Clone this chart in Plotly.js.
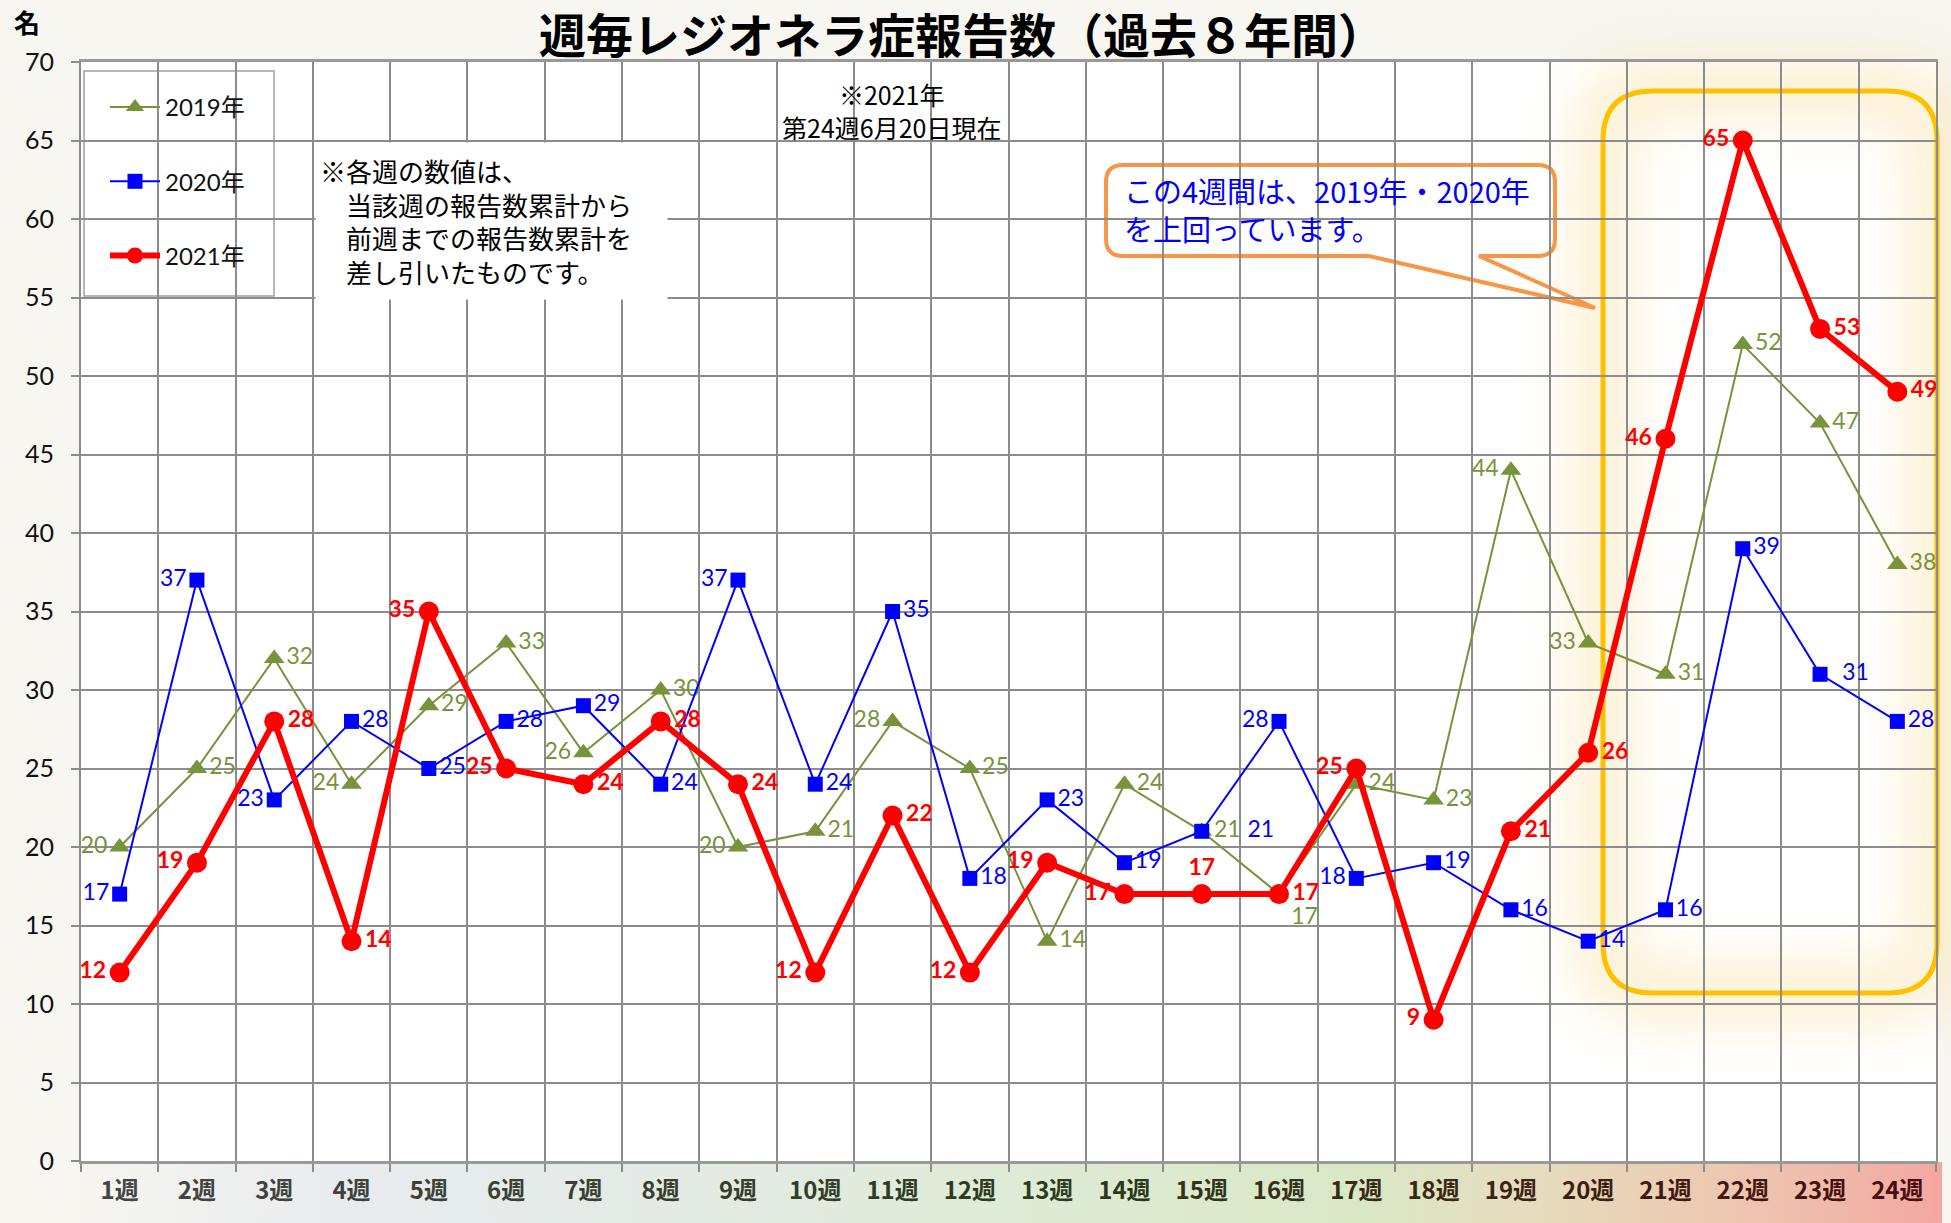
<!DOCTYPE html>
<html><head><meta charset="utf-8">
<script src="https://cdn.plot.ly/plotly-3.0.1.min.js"></script>
<style>html,body{margin:0;padding:0;background:#f7f6f1;}#chart{width:1951px;height:1223px;}</style>
</head><body><div id="chart"></div>
<script>
// ---------- data ----------
const weeks = ["1週","2週","3週","4週","5週","6週","7週","8週","9週","10週","11週","12週",
               "13週","14週","15週","16週","17週","18週","19週","20週","21週","22週","23週","24週"];
const seriesNames = ["2019年","2020年","2021年"];
const v2019 = [20,25,32,24,29,33,26,30,20,21,28,25,14,24,21,17,24,23,44,33,31,52,47,38];
const v2020 = [17,37,23,28,25,28,29,24,37,24,35,18,23,19,21,28,18,19,16,14,16,39,31,28];
const v2021 = [12,19,28,14,35,25,24,28,24,12,22,12,19,17,17,17,25,9,21,26,46,65,53,49];
const yTickMax = 70, yTickStep = 5;

const L="middle left", R="middle right", TC="top center", BR="bottom right";
const pos2019 = [L,R,R,L,R,R,L,R,L,R,L,R,R,R,R,BR,R,R,L,L,R,R,R,R];
const pos2020 = [L,L,L,R,R,R,R,R,L,R,R,R,R,R,R,L,L,R,R,R,R,R,R,R];
const pos2021 = [L,L,R,R,L,L,R,R,R,L,R,L,L,L,TC,R,L,L,R,R,L,L,R,R];

const titleText = "週毎レジオネラ症報告数（過去８年間）";
const unitText = "名";
const noteText = "※各週の数値は、<br>　当該週の報告数累計から<br>　前週までの報告数累計を<br>　差し引いたものです。";
const dateText = "※2021年<br>第24週6月20日現在";
const calloutText = "この4週間は、2019年・2020年<br>を上回っています。";

// ---------- geometry ----------
const W=1951, H=1223, ML=81, MR=15, MT=62, MB=62;
const PW=W-ML-MR, PH=H-MT-MB;
const px2x = px => (px-ML)/PW;
const px2y = py => 1-(py-MT)/PH;
const P = (x,y) => px2x(x).toFixed(5)+","+px2y(y).toFixed(5);
function rrPath(x0,y0,x1,y1,r){
  return "M"+P(x0+r,y0)+" L"+P(x1-r,y0)+" Q"+P(x1,y0)+" "+P(x1,y0+r)+
    " L"+P(x1,y1-r)+" Q"+P(x1,y1)+" "+P(x1-r,y1)+
    " L"+P(x0+r,y1)+" Q"+P(x0,y1)+" "+P(x0,y1-r)+
    " L"+P(x0,y0+r)+" Q"+P(x0,y0)+" "+P(x0+r,y0)+" Z";
}
function calloutPath(x0,y0,x1,y1,r,ta,tb,tx,ty){
  return "M"+P(x0+r,y0)+" L"+P(x1-r,y0)+" Q"+P(x1,y0)+" "+P(x1,y0+r)+
    " L"+P(x1,y1-r)+" Q"+P(x1,y1)+" "+P(x1-r,y1)+
    " L"+P(tb,y1)+" L"+P(tx,ty)+" L"+P(ta,y1)+
    " L"+P(x0+r,y1)+" Q"+P(x0,y1)+" "+P(x0,y1-r)+
    " L"+P(x0,y0+r)+" Q"+P(x0,y0)+" "+P(x0+r,y0)+" Z";
}

// ---------- background image ----------
const cv=document.createElement("canvas"); cv.width=W; cv.height=H;
const c=cv.getContext("2d");
c.fillStyle="#f7f6f1"; c.fillRect(0,0,W,H);
c.fillStyle="#ffffff"; c.fillRect(ML,MT,PW,PH);
function rr(ctx,x0,y0,x1,y1,r){ctx.beginPath();ctx.moveTo(x0+r,y0);ctx.lineTo(x1-r,y0);ctx.quadraticCurveTo(x1,y0,x1,y0+r);
 ctx.lineTo(x1,y1-r);ctx.quadraticCurveTo(x1,y1,x1-r,y1);ctx.lineTo(x0+r,y1);ctx.quadraticCurveTo(x0,y1,x0,y1-r);
 ctx.lineTo(x0,y0+r);ctx.quadraticCurveTo(x0,y0,x0+r,y0);ctx.closePath();}
c.save(); c.filter="blur(26px)"; c.strokeStyle="rgba(250,222,155,0.42)"; c.lineWidth=64;
rr(c,1603,91,1937,993,50); c.stroke(); c.restore();
const g=c.createLinearGradient(ML,0,1942,0);
g.addColorStop(0,"#f6f5f0"); g.addColorStop(0.15,"#e7ebee"); g.addColorStop(0.3,"#e4ebe6");
g.addColorStop(0.5,"#deebd6"); g.addColorStop(0.68,"#d9e8c6"); g.addColorStop(0.78,"#e6dcbd");
g.addColorStop(0.86,"#ebcdb3"); g.addColorStop(0.93,"#efbdac"); g.addColorStop(1,"#f4a6a0");
c.fillStyle=g; c.fillRect(ML,1162,1942-ML,H-1162);
const bgURL=cv.toDataURL("image/png");

// tick label colours: grey -> dark green -> dark red-brown
function lerpHex(a,b,t){const pa=[1,3,5].map(i=>parseInt(a.substr(i,2),16)),pb=[1,3,5].map(i=>parseInt(b.substr(i,2),16));
 return "rgb("+pa.map((v,i)=>Math.round(v+(pb[i]-v)*t)).join(",")+")";}
const tickColors = weeks.map((w,i)=>{const t=i/(weeks.length-1);
 return t<0.55 ? lerpHex("#444444","#2c3a1c",t/0.55) : lerpHex("#2c3a1c","#4a0d0d",(t-0.55)/0.45);});
const tickText = weeks.map((w,i)=>'<span style="color:'+tickColors[i]+'">'+w+'</span>');

// ---------- traces ----------
const nb = n => "\u00a0".repeat(n);
const labels2020 = v2020.map(String);
labels2020[14] = nb(6) + labels2020[14];
labels2020[22] = nb(2) + labels2020[22];
const traces = [
 {x:weeks,y:v2019,name:seriesNames[0],legendgroup:"a",type:"scatter",mode:"lines+markers+text",
  line:{color:"#77933c",width:2},marker:{symbol:"triangle-up",size:18,color:"#77933c"},
  text:v2019.map(String),textposition:pos2019,textfont:{family:"Lato",size:23,color:"#77933c"},cliponaxis:false},
 {x:weeks,y:v2020,name:seriesNames[1],legendgroup:"b",type:"scatter",mode:"lines+markers+text",
  line:{color:"#0000ff",width:2},marker:{symbol:"square",size:15,color:"#0000ff"},
  text:labels2020,textposition:pos2020,textfont:{family:"Lato",size:23,color:"#0000ff"},cliponaxis:false},
 {x:weeks,y:v2021,name:seriesNames[2],legendgroup:"c",type:"scatter",mode:"lines+markers+text",
  line:{color:"#ff0000",width:6},marker:{symbol:"circle",size:20,color:"#ff0000"},
  text:v2021.map(String),textposition:pos2021,textfont:{family:"Lato",size:23,color:"#ff0000",weight:"bold"},cliponaxis:false}
];

const gridC="#8c8c8c";
const layout={
 width:W,height:H,margin:{l:ML,r:MR,t:MT,b:MB,pad:0},
 paper_bgcolor:"#f7f6f1",plot_bgcolor:"rgba(0,0,0,0)",
 hovermode:false,
 title:{text:titleText,x:962/W,xref:"container",y:1-37/H,yref:"container",yanchor:"middle",xanchor:"center",
  font:{family:"Noto Sans CJK JP",size:47,color:"#000",weight:"bold"}},
 xaxis:{type:"category",categoryorder:"array",categoryarray:weeks,range:[-0.5,23.5],tickson:"boundaries",
  tickmode:"array",tickvals:weeks,ticktext:tickText,
  showgrid:true,gridcolor:gridC,gridwidth:2,ticks:"outside",ticklen:8,tickcolor:gridC,tickwidth:2,
  showline:true,linecolor:"#999",linewidth:3,mirror:true,zeroline:false,ticklabelstandoff:6,
  tickfont:{family:"Noto Sans CJK JP",size:24,color:"#333",weight:"bold"},fixedrange:true},
 yaxis:{range:[0,yTickMax],tick0:0,dtick:yTickStep,showgrid:true,gridcolor:gridC,gridwidth:2,
  ticks:"outside",ticklen:8,tickcolor:gridC,tickwidth:2,showline:true,linecolor:gridC,linewidth:2,mirror:true,
  zeroline:false,ticklabelstandoff:12,tickfont:{family:"Lato",size:25,color:"#111"},fixedrange:true},
 legend:{x:px2x(105),y:px2y(85),xanchor:"left",yanchor:"top",bgcolor:"rgba(0,0,0,0)",borderwidth:0,
  tracegroupgap:40,itemwidth:50,font:{family:"Lato, Noto Sans CJK JP",size:24,color:"#111"}},
 images:[{source:bgURL,xref:"paper",yref:"paper",x:-ML/PW,y:1+MT/PH,sizex:W/PW,sizey:H/PH,
  xanchor:"left",yanchor:"top",sizing:"stretch",layer:"below"}],
 shapes:[
  {type:"rect",xref:"paper",yref:"paper",x0:px2x(84),x1:px2x(274),y0:px2y(71),y1:px2y(296),
   fillcolor:"#ffffff",line:{color:"#a0a0a0",width:1.5},layer:"between"},
  {type:"path",xref:"paper",yref:"paper",path:rrPath(1603,91,1937,993,50),
   line:{color:"#ffc000",width:5},fillcolor:"rgba(0,0,0,0)",layer:"between"},
  {type:"path",xref:"paper",yref:"paper",path:calloutPath(1106,165,1555,256,17,1369,1479,1595,308),
   line:{color:"#f79646",width:4},fillcolor:"#ffffff",layer:"between"}
 ],
 annotations:[
  {text:unitText,xref:"paper",yref:"paper",x:px2x(27),y:px2y(22),xanchor:"center",yanchor:"middle",showarrow:false,
   font:{family:"Noto Sans CJK JP",size:26,color:"#000",weight:"bold"}},
  {text:noteText,xref:"paper",yref:"paper",x:px2x(315),y:px2y(142),xanchor:"left",yanchor:"top",showarrow:false,
   align:"left",valign:"middle",width:343,height:148,borderpad:4,bgcolor:"#ffffff",
   font:{family:"Noto Sans CJK JP",size:26,color:"#000"}},
  {text:dateText,xref:"paper",yref:"paper",x:px2x(891),y:px2y(110),xanchor:"center",yanchor:"middle",showarrow:false,
   align:"center",font:{family:"Noto Sans CJK JP",size:25,color:"#000"}},
  {text:calloutText,xref:"paper",yref:"paper",x:px2x(1122),y:px2y(209),xanchor:"left",yanchor:"middle",showarrow:false,
   align:"left",font:{family:"Noto Sans CJK JP",size:29,color:"#0000ff"}}
 ]
};
Plotly.newPlot("chart",traces,layout,{staticPlot:true,displayModeBar:false});
</script></body></html>
